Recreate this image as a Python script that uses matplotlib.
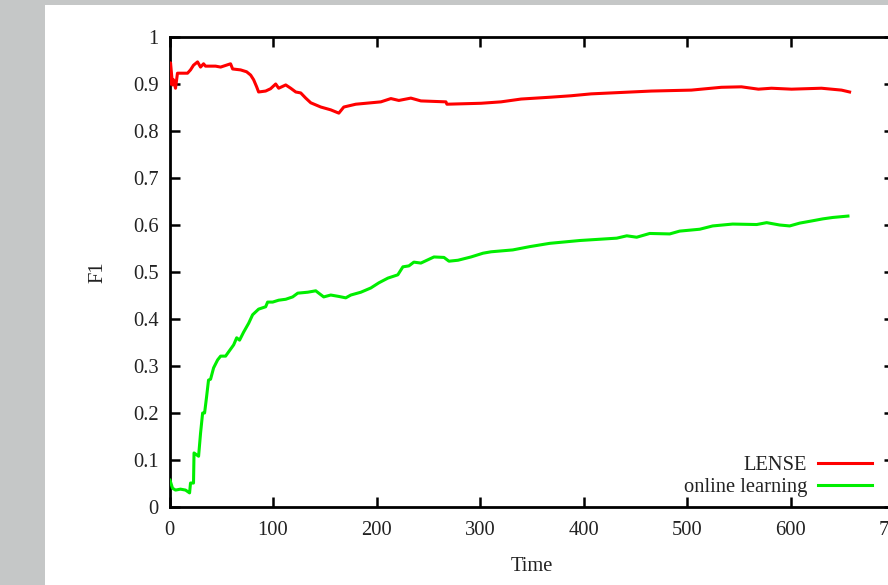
import matplotlib
matplotlib.use("Agg")
import matplotlib.pyplot as plt
from matplotlib.patches import Rectangle

plt.rcParams['font.family'] = ['Liberation Serif', 'DejaVu Serif']

# LENSE series
lense_t = [0, 1.0, 2.9, 3.9, 5.8, 7.7, 17.4, 20.3, 23.2, 27.1,
           30.0, 32.9, 34.8, 44.5, 49.4, 59.0, 61.0, 68.7, 74.5, 78.4,
           81.3, 84.2, 86.1, 92.9, 97.7, 102.6, 105.5, 112.3, 117.1, 122.0,
           126.8, 131.6, 136.5, 146.2, 155.8, 163.6, 168.4, 180.0, 189.7, 204.2,
           213.9, 221.6, 233.2, 242.9, 267.1, 268.0, 301.0, 320.3, 339.7, 368.7,
           388.1, 407.4, 426.8, 465.5, 504.2, 533.2, 552.6, 569.0, 581.6, 601.0,
           629.9, 649.3, 657.1]
lense_f1 = [0.900, 0.945, 0.898, 0.909, 0.891, 0.923, 0.923, 0.930, 0.940, 0.947,
            0.936, 0.943, 0.938, 0.938, 0.936, 0.943, 0.932, 0.930, 0.926, 0.919,
            0.909, 0.894, 0.883, 0.885, 0.890, 0.900, 0.891, 0.898, 0.891, 0.883,
            0.881, 0.870, 0.860, 0.851, 0.845, 0.838, 0.851, 0.857, 0.859, 0.862,
            0.869, 0.865, 0.870, 0.864, 0.862, 0.857, 0.859, 0.862, 0.868, 0.872,
            0.875, 0.879, 0.881, 0.885, 0.887, 0.893, 0.894, 0.889, 0.891, 0.889,
            0.891, 0.887, 0.883]

# online learning series
online_t = [0.5, 2.9, 5.8, 10.6, 15.5, 19.4, 20.3, 23.2, 23.7, 28.1,
            30.0, 32.0, 33.9, 35.8, 37.7, 39.7, 42.6, 46.5, 49.4, 54.2,
            57.1, 62.0, 64.9, 67.7, 71.6, 76.5, 80.3, 86.1, 92.9, 94.8,
            99.7, 105.5, 112.3, 119.0, 123.9, 133.6, 141.3, 144.2, 149.0, 155.8,
            163.6, 170.3, 175.2, 184.9, 194.5, 202.3, 211.0, 220.6, 225.5, 231.3,
            236.1, 242.9, 255.5, 265.2, 270.0, 278.7, 291.3, 302.9, 310.7, 331.7,
            348.1, 367.4, 396.4, 432.1, 441.8, 451.4, 464.0, 483.3, 492.9, 512.3,
            524.8, 544.1, 567.3, 577.0, 589.5, 599.2, 608.9, 621.4, 631.1, 640.7,
            655.5]
online_f1 = [0.057, 0.040, 0.036, 0.038, 0.036, 0.030, 0.051, 0.051, 0.115, 0.108,
             0.157, 0.200, 0.200, 0.234, 0.270, 0.272, 0.296, 0.313, 0.321, 0.321,
             0.330, 0.345, 0.360, 0.355, 0.372, 0.391, 0.409, 0.421, 0.426, 0.436,
             0.436, 0.440, 0.442, 0.447, 0.455, 0.457, 0.460, 0.455, 0.447, 0.451,
             0.448, 0.445, 0.451, 0.457, 0.466, 0.477, 0.487, 0.494, 0.511, 0.513,
             0.521, 0.519, 0.532, 0.531, 0.523, 0.525, 0.532, 0.540, 0.543, 0.547,
             0.554, 0.561, 0.567, 0.572, 0.577, 0.574, 0.582, 0.581, 0.587, 0.591,
             0.598, 0.602, 0.601, 0.605, 0.600, 0.598, 0.604, 0.609, 0.613, 0.616,
             0.619]

x_ticks = [0, 100, 200, 300, 400, 500, 600, 700]
y_ticks = [0, 0.1, 0.2, 0.3, 0.4, 0.5, 0.6, 0.7, 0.8, 0.9, 1]
y_tick_labels = ['0', '0.1', '0.2', '0.3', '0.4', '0.5', '0.6', '0.7', '0.8', '0.9', '1']

W, H = 888, 585
fig = plt.figure(figsize=(W / 100, H / 100), dpi=100)
fig.patch.set_facecolor('#c5c7c7')
fig.patches.append(Rectangle((45 / W, 0), 1 - 45 / W, 1 - 5 / H,
                             transform=fig.transFigure, facecolor='white',
                             edgecolor='none', zorder=-10))

x0, x1 = 169.5, 894.0
ax = fig.add_axes([x0 / W, 1 - 507 / H, (x1 - x0) / W, 470 / H])
ax.set_facecolor('white')
ax.plot(lense_t, lense_f1, color='#ff0000', lw=2.2, label='LENSE', zorder=3)
ax.plot(online_t, online_f1, color='#00ee00', lw=2.2, label='online learning', zorder=3)

ax.set_xlim(0, 700)
ax.set_ylim(0, 1)
ax.set_xticks(x_ticks)
ax.set_yticks(y_ticks)
ax.set_yticklabels(y_tick_labels)
txtc = '#222222'
fs = 14.8
ax.tick_params(direction='in', length=7, width=1.8, top=True, right=True,
               labelsize=fs, labelcolor=txtc, color='black')
ax.tick_params(axis='x', pad=10)
ax.tick_params(axis='y', pad=8)
for s in ax.spines.values():
    s.set_linewidth(2.0)
    s.set_color('black')

ax.set_xlabel('Time', fontsize=fs, color=txtc, labelpad=12)
ax.set_ylabel('F1', fontsize=fs, color=txtc, labelpad=18)

leg = ax.legend(loc='lower right',
                bbox_to_anchor=((872 - x0) / (x1 - x0), (507 - 497) / 470),
                frameon=False, markerfirst=False, fontsize=fs, borderpad=0,
                borderaxespad=0, handlelength=2.65, handletextpad=0.5,
                labelspacing=0.12)
for t in leg.get_texts():
    t.set_color(txtc)

fig.savefig('out.png', dpi=100)
